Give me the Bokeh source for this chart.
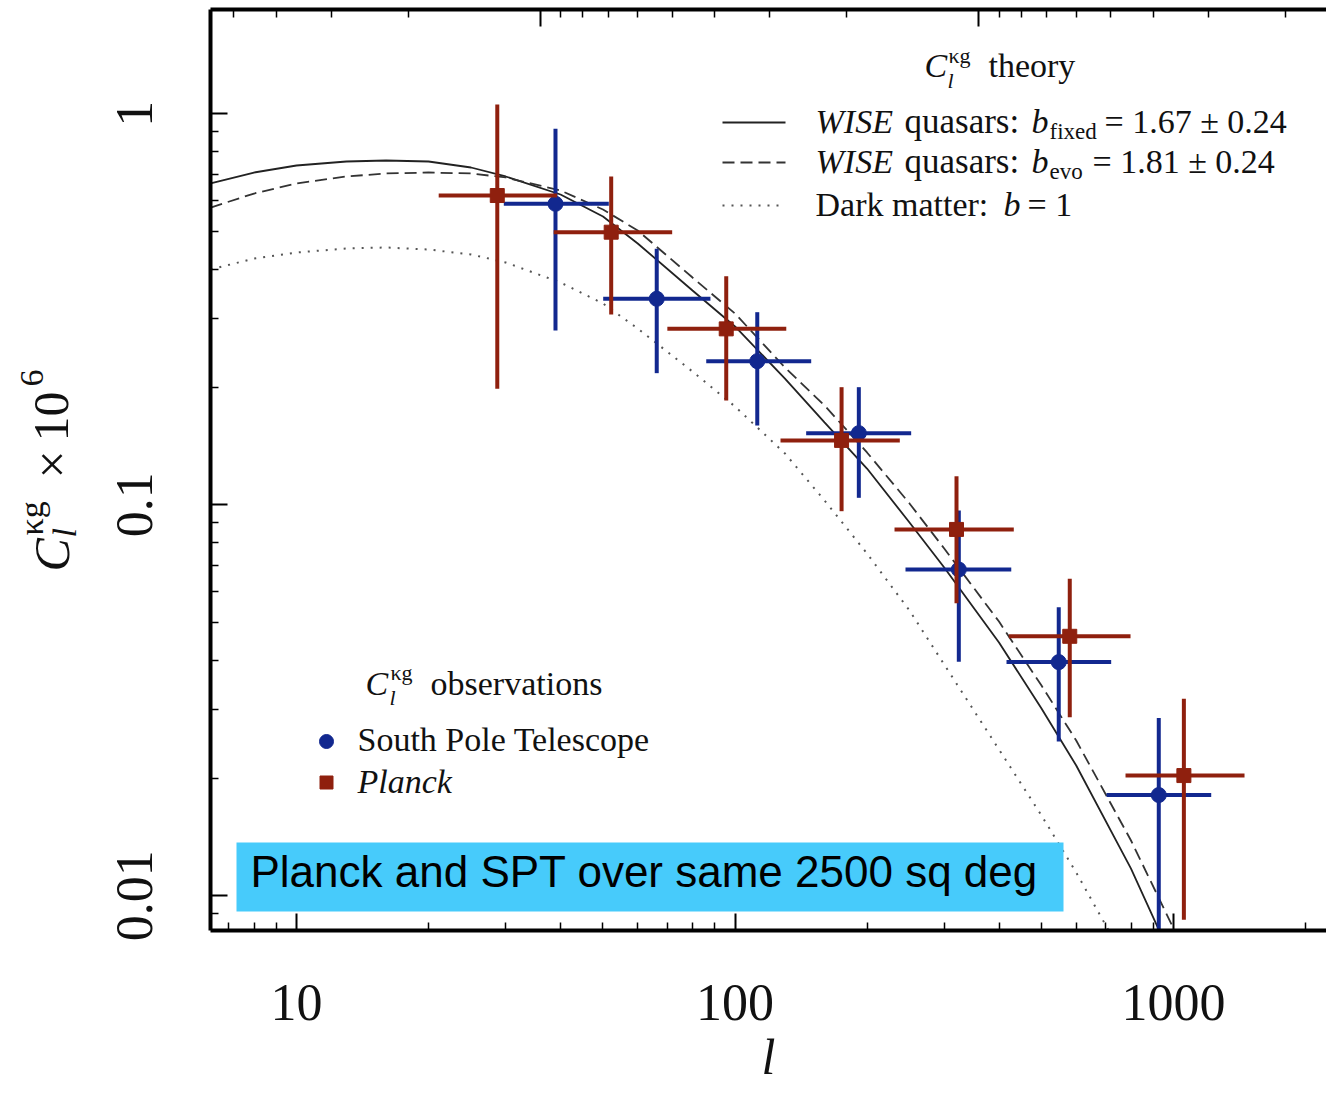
import math
from bokeh.plotting import figure
from bokeh.layouts import row
from bokeh.models import (LogAxis, Range1d, LogScale, FixedTicker, Label, BoxAnnotation,
                          CustomJSTickFormatter)
from bokeh.embed import file_html
from bokeh.resources import INLINE

# ---------------- data ----------------
theory_ell = [6.37, 8, 10, 13, 16, 20, 25, 30, 40, 50, 60, 80, 100, 130, 160, 200,
              250, 300, 400, 500, 600, 800, 1000, 1200]
theory_fixed = [0.6635, 0.7077, 0.7375, 0.7551, 0.7596, 0.7551, 0.7289, 0.6913, 0.6217,
                0.5461, 0.4660, 0.3533, 0.2858, 0.2103, 0.1624, 0.1238, 0.0901, 0.0691,
                0.04444, 0.03013, 0.02154, 0.01174, 0.006772, 0.004141]
theory_evo = [0.5758, 0.6253, 0.6635, 0.6913, 0.7037, 0.7077, 0.7037, 0.6873, 0.6365,
              0.5691, 0.5028, 0.3813, 0.3085, 0.2244, 0.1795, 0.1361, 0.1008, 0.07731,
              0.05028, 0.03450, 0.02496, 0.01385, 0.008248, 0.005121]
theory_dm = [0.3997, 0.4265, 0.4419, 0.4524, 0.4551, 0.4497, 0.4367, 0.4166, 0.3703,
             0.3272, 0.2824, 0.2192, 0.1784, 0.1353, 0.1026, 0.07507, 0.05365, 0.03904,
             0.02367, 0.01605, 0.01147, 0.00644, 0.0040, 0.00266]

spt_ell = [38.96, 66.3, 112.4, 191.6, 323.9, 547.4, 925.6]
spt_ell_lo = [29.7, 50.05, 85.98, 145.3, 244.8, 416.1, 703.5]
spt_ell_hi = [51.55, 87.9, 149.2, 252.2, 426.6, 720.9, 1219]
spt_cl = [0.5886, 0.3364, 0.2330, 0.1525, 0.0683, 0.0396, 0.0181]
spt_cl_lo = [0.2791, 0.2171, 0.1595, 0.1042, 0.0397, 0.0248, 0.006]
spt_cl_hi = [0.9155, 0.4516, 0.3109, 0.1999, 0.0967, 0.0547, 0.0285]

planck_ell = [28.7, 52.2, 95.5, 175.0, 320.0, 580.0, 1056]
planck_ell_lo = [21.1, 38.6, 70.1, 127.0, 231.1, 421.1, 777.3]
planck_ell_hi = [39.3, 71.9, 130.9, 237.6, 432.3, 798.0, 1452]
planck_cl = [0.618, 0.498, 0.2818, 0.1461, 0.0865, 0.0461, 0.0203]
planck_cl_lo = [0.198, 0.3067, 0.1848, 0.0963, 0.0560, 0.0286, 0.00868]
planck_cl_hi = [1.056, 0.6912, 0.3842, 0.1999, 0.1183, 0.0647, 0.0319]

x_tick_values = [10, 100, 1000]
x_tick_labels = ["10", "100", "1000"]
y_tick_values = [0.01, 0.1, 1]
y_tick_labels = ["0.01", "0.1", "1"]
theta_tick_values = [1, 10]   # top axis: angular scale 360/l in degrees

# ---------------- layout helpers (canvas pixels -> data) ----------------
W, H = 1326, 1089
LW = 88                         # strip on the left that holds the y-axis title
X10_PX, DEC_X = 296.0, 438.5
Y1_PX, DEC_Y = 113.3, 391.0
FRAME_L, FRAME_R, FRAME_T, FRAME_B = 210, W, 9, 930
MID = 0.34                      # label anchor sits this many em above the text baseline


def dx(px):
    return 10 ** (1 + (px - X10_PX) / DEC_X)


def dy(py):
    return 10 ** (-(py - Y1_PX) / DEC_Y)


RED = "#8F200E"
BLUE = "#12288F"
SERIF = "Liberation Serif"
INK = "#111111"

x0, x1 = dx(FRAME_L), dx(FRAME_R)
y_rng = Range1d(dy(FRAME_B), dy(FRAME_T))
p = figure(width=W - LW, height=H, x_axis_type="log", y_axis_type="log",
           x_range=Range1d(x0, x1), y_range=y_rng,
           output_backend="svg", toolbar_location=None,
           min_border_left=FRAME_L - LW, min_border_right=0, min_border_top=FRAME_T,
           min_border_bottom=H - FRAME_B)
p.outline_line_color = None
p.grid.visible = False
p.background_fill_color = "white"

x_minor = [m * 10 ** e for e in range(0, 4) for m in range(2, 10)]
y_minor = [m * 10 ** e for e in range(-3, 1) for m in range(2, 10)]
t_minor = [m * 10 ** e for e in range(-1, 2) for m in range(2, 10)]

fmt_code = """
for (let i = 0; i < vals.length; i++) {
  if (Math.abs(vals[i] - tick) < 1e-6 * vals[i]) return labs[i];
}
return '';
"""

for ax, vals, labs, minors in ((p.xaxis[0], x_tick_values, x_tick_labels, x_minor),
                                (p.yaxis[0], y_tick_values, y_tick_labels, y_minor)):
    ax.ticker = FixedTicker(ticks=vals, minor_ticks=minors)
    ax.formatter = CustomJSTickFormatter(args=dict(vals=vals, labs=labs), code=fmt_code)
    ax.axis_line_width = 4
    ax.axis_line_color = "black"
    ax.major_tick_in = 17
    ax.major_tick_out = 0
    ax.minor_tick_in = 8
    ax.minor_tick_out = 0
    ax.major_tick_line_width = 2
    ax.minor_tick_line_width = 1.5
    ax.major_label_text_font = SERIF
    ax.major_label_text_font_size = "52px"
    ax.major_label_text_color = INK

p.xaxis.major_label_standoff = 54
p.yaxis.major_label_standoff = 58
p.yaxis.major_label_orientation = "vertical"

p.xaxis.axis_label = "l"
p.xaxis.axis_label_text_font = SERIF
p.xaxis.axis_label_text_font_style = "italic"
p.xaxis.axis_label_text_font_size = "50px"
p.xaxis.axis_label_text_color = INK
p.xaxis.axis_label_standoff = 6

p.extra_x_ranges = {"theta": Range1d(360.0 / x0, 360.0 / x1)}
p.extra_x_scales = {"theta": LogScale()}
top = LogAxis(x_range_name="theta",
              ticker=FixedTicker(ticks=theta_tick_values, minor_ticks=t_minor),
              formatter=CustomJSTickFormatter(code="return '';"),
              axis_line_width=4, axis_line_color="black",
              major_tick_in=17, major_tick_out=0, minor_tick_in=8, minor_tick_out=0,
              major_tick_line_width=2, minor_tick_line_width=1.5,
              major_label_standoff=0, major_label_text_font_size="1px")
p.add_layout(top, "above")

# ---------------- theory curves ----------------
p.line(theory_ell, theory_fixed, line_color="#222222", line_width=1.8)
p.line(theory_ell, theory_evo, line_color="#333333", line_width=1.8, line_dash="12 6")
p.line(theory_ell, theory_dm, line_color="#555555", line_width=2, line_dash="2 7")

# ---------------- observations ----------------
for ell, lo, hi, cl, clo, chi, col, mk, sz in (
        (spt_ell, spt_ell_lo, spt_ell_hi, spt_cl, spt_cl_lo, spt_cl_hi, BLUE, "circle", 15),
        (planck_ell, planck_ell_lo, planck_ell_hi, planck_cl, planck_cl_lo, planck_cl_hi, RED, "square", 14)):
    p.segment(x0=lo, x1=hi, y0=cl, y1=cl, line_color=col, line_width=4)
    p.segment(x0=ell, x1=ell, y0=clo, y1=chi, line_color=col, line_width=4)
    p.scatter(ell, cl, marker=mk, size=sz, fill_color=col, line_color=col)


# ---------------- text helpers ----------------
def lab(text, px, py, size, style="normal", font=SERIF, color=INK):
    """px = left edge, py = text baseline (canvas pixels)."""
    p.add_layout(Label(x=dx(px), y=dy(py - MID * size), text=text,
                       text_font=font, text_font_size=f"{size}px",
                       text_font_style=style, text_color=color,
                       text_align="left", text_baseline="alphabetic"))


# theory legend
lab("C", 924, 77, 34, "italic")
lab("κg", 948, 62, 22)
lab("l", 947, 87, 22, "italic")
lab("theory", 988, 77, 34)

p.line([dx(722), dx(785)], [dy(122), dy(122)], line_color="#222222", line_width=1.8)
p.line([dx(722), dx(785)], [dy(162), dy(162)], line_color="#333333", line_width=1.8, line_dash="12 6")
p.line([dx(722), dx(778)], [dy(205), dy(205)], line_color="#555555", line_width=2, line_dash="2 7")

lab("WISE", 815, 133, 34, "italic")
lab("quasars:", 904, 133, 35)
lab("b", 1031, 133, 34, "italic")
lab("fixed", 1049, 139, 23)
lab("= 1.67 ± 0.24", 1104, 133, 34)

lab("WISE", 815, 173, 34, "italic")
lab("quasars:", 904, 173, 35)
lab("b", 1031, 173, 34, "italic")
lab("evo", 1049, 179, 23)
lab("= 1.81 ± 0.24", 1092, 173, 34)

lab("Dark matter:", 815, 216, 34)
lab("b", 1003, 216, 34, "italic")
lab("= 1", 1027, 216, 34)

# observation legend
lab("C", 365, 695, 34, "italic")
lab("κg", 390, 679, 22)
lab("l", 389, 704, 22, "italic")
lab("observations", 430, 695, 34)
p.scatter([dx(326)], [dy(741)], marker="circle", size=14, fill_color=BLUE, line_color=BLUE)
p.scatter([dx(326)], [dy(782)], marker="square", size=13, fill_color=RED, line_color=RED)
lab("South Pole Telescope", 357, 751, 34)
lab("Planck", 357, 793, 34, "italic")

# annotation box
p.add_layout(BoxAnnotation(left=dx(236), right=dx(1063), top=dy(842), bottom=dy(911),
                           fill_color="#47CBFB", fill_alpha=1.0, line_color=None))
lab("Planck and SPT over same 2500 sq deg", 250, 886, 44, font="Liberation Sans", color="black")

# ---------------- y-axis title strip (left of the main plot, same y scale) ----------------
side = figure(width=LW, height=H, x_range=Range1d(0, LW), y_range=y_rng, y_axis_type="log",
              output_backend="svg", toolbar_location=None,
              x_axis_location=None, y_axis_location=None,
              min_border_left=0, min_border_right=0, min_border_top=FRAME_T,
              min_border_bottom=H - FRAME_B)
side.outline_line_color = None
side.grid.visible = False
V = math.pi / 2


def vlab(text, px, py, size, style="normal"):
    """Rotated text reading upwards; px = baseline column, py = start (bottom) of the text."""
    side.add_layout(Label(x=px - MID * size, y=dy(py), text=text, text_font=SERIF,
                          text_font_size=f"{size}px", text_font_style=style,
                          text_color=INK, angle=V, text_align="left",
                          text_baseline="alphabetic"))


vlab("C", 68, 571, 50, "italic")
vlab("l", 76, 537, 34, "italic")
vlab("κg", 43, 535, 34)
vlab("×", 68, 478, 50)
vlab("10", 68, 441, 50)
vlab("6", 43, 386, 34)

layout = row(side, p, spacing=0)
open("out.html", "w").write(file_html(layout, INLINE))
